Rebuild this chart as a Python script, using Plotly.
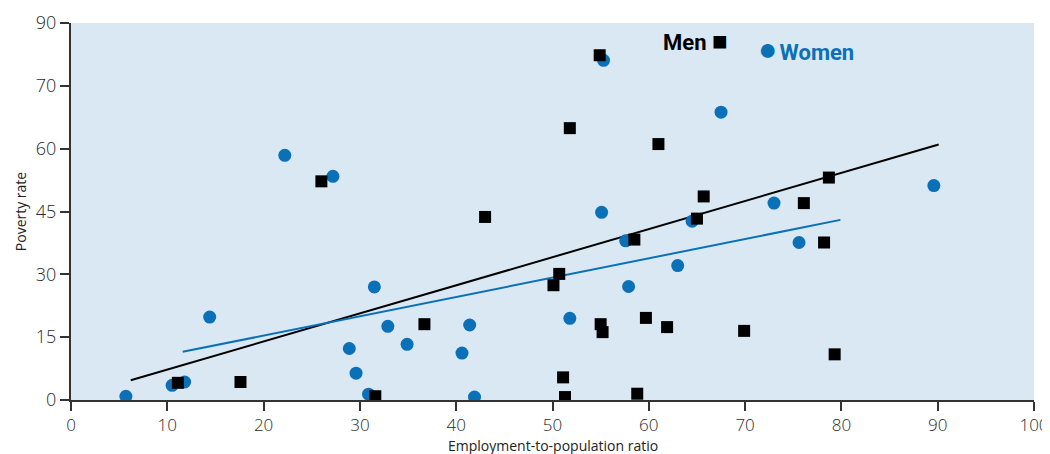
import plotly.graph_objects as go

# Women (blue circles)
women_x = [5.7, 10.5, 11.8, 14.4, 22.2, 27.2, 28.9, 29.6, 30.9, 31.5, 32.9, 34.9,
           40.6, 41.4, 41.9, 51.8, 55.1, 55.3, 57.6, 57.9, 63.0, 64.5, 67.5, 73.0,
           75.6, 89.6]
women_y = [0.9, 3.5, 4.3, 19.8, 58.4, 53.4, 12.3, 6.4, 1.4, 27.0, 17.6, 13.3,
           11.2, 17.9, 0.7, 19.5, 44.8, 81.1, 38.0, 27.1, 32.1, 42.7, 68.7, 47.0,
           37.6, 51.2]

# Men (black squares)
men_x = [11.1, 17.6, 26.0, 31.6, 36.7, 43.0, 50.1, 50.7, 51.1, 51.3, 51.8, 54.9,
         55.0, 55.2, 58.5, 58.8, 59.7, 61.0, 61.9, 65.0, 65.7, 69.9, 76.1, 78.2,
         78.7, 79.3]
men_y = [4.1, 4.3, 52.2, 0.9, 18.1, 43.7, 27.4, 30.1, 5.4, 0.7, 64.9, 82.3,
         18.1, 16.2, 38.3, 1.5, 19.6, 61.1, 17.4, 43.3, 48.6, 16.5, 47.0, 37.6,
         53.1, 10.9]

# Trend lines (endpoints)
men_trend_x = [6.2, 90.1]
men_trend_y = [4.7, 61.0]
women_trend_x = [11.6, 79.9]
women_trend_y = [11.5, 43.0]

# Axis ticks
x_ticks = [0, 10, 20, 30, 40, 50, 60, 70, 80, 90, 100]
y_tickvals = [0, 15, 30, 45, 60, 75, 90]
y_ticktext = ["0", "15", "30", "45", "60", "70", "90"]

BLUE = "#0a70b8"
BG = "#dae8f3"
AXIS = "#333333"
FONT = "Open Sans"

fig = go.Figure()
fig.add_trace(go.Scatter(x=men_trend_x, y=men_trend_y, mode="lines",
                         line=dict(color="black", width=2), hoverinfo="skip"))
fig.add_trace(go.Scatter(x=women_trend_x, y=women_trend_y, mode="lines",
                         line=dict(color=BLUE, width=2), hoverinfo="skip"))
fig.add_trace(go.Scatter(x=women_x, y=women_y, mode="markers", name="Women",
                         marker=dict(symbol="circle", size=13, color=BLUE,
                                     line=dict(width=0))))
fig.add_trace(go.Scatter(x=men_x, y=men_y, mode="markers", name="Men",
                         marker=dict(symbol="square", size=12, color="black",
                                     line=dict(width=0))))

fig.add_annotation(x=68.4, y=85.7, xref="x", yref="y",
                   text="<b>Men</b> <span style='font-size:26px'>■</span>",
                   showarrow=False, xanchor="right", yanchor="middle",
                   font=dict(family="Roboto", size=22, color="black"))
fig.add_annotation(x=71.1, y=83.7, xref="x", yref="y",
                   text="<span style='font-size:32px'>●</span>"
                        "<span style='font-size:9px'> </span><b>Women</b>",
                   showarrow=False, xanchor="left", yanchor="middle",
                   font=dict(family="Roboto", size=22, color=BLUE))

# x-axis title as a paper annotation so its position is controlled exactly
fig.add_annotation(x=0.5, y=-0.122, xref="paper", yref="paper",
                   text="Employment-to-population ratio", showarrow=False,
                   xanchor="center", yanchor="middle",
                   font=dict(size=14, family=FONT, color="#222222"))

# page body has an 8px margin: figure is sized/positioned to compensate
fig.update_layout(
    width=1042, height=446,
    margin=dict(l=63, r=16, t=15, b=54),
    plot_bgcolor=BG, paper_bgcolor="white",
    showlegend=False,
    font=dict(family=FONT, color="#333333"),
    xaxis=dict(range=[0, 100], tickvals=x_ticks, showgrid=False, zeroline=False,
               showline=True, linecolor=AXIS, linewidth=2, automargin=False,
               ticks="outside", ticklen=9, tickcolor=AXIS, tickwidth=1.5,
               tickfont=dict(size=17, family=FONT, color="#2a2a2a", weight=300)),
    yaxis=dict(range=[0, 90], tickvals=y_tickvals, ticktext=y_ticktext,
               showgrid=False, zeroline=False, automargin=False,
               showline=True, linecolor=AXIS, linewidth=2,
               ticks="outside", ticklen=9, tickcolor=AXIS, tickwidth=1.5,
               tickfont=dict(size=18, family=FONT, color="#2a2a2a", weight=300),
               title=dict(text="Poverty rate", standoff=6,
                          font=dict(size=14, family=FONT, color="#222222"))),
)

fig.write_html("out.html")
